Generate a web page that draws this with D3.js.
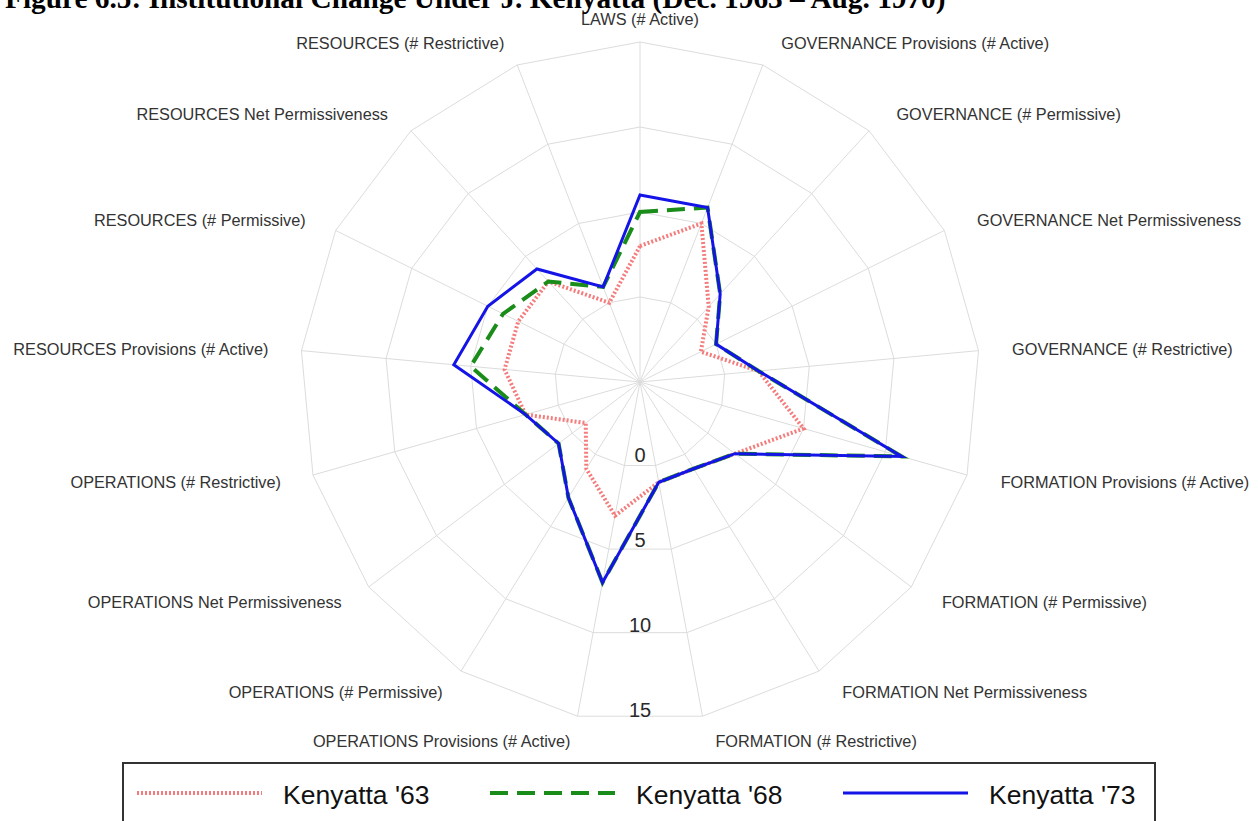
<!DOCTYPE html>
<html>
<head>
<meta charset="utf-8">
<script src="https://cdn.jsdelivr.net/npm/d3@7"></script>
<style>
  body { margin: 0; background: #fff; }
  svg { display: block; }
</style>
</head>
<body>
<svg id="chart" width="1258" height="821"></svg>
<script>
// spoke labels, clockwise from the top
var axes = [
  'LAWS (# Active)',
  'GOVERNANCE Provisions (# Active)',
  'GOVERNANCE (# Permissive)',
  'GOVERNANCE Net Permissiveness',
  'GOVERNANCE (# Restrictive)',
  'FORMATION Provisions (# Active)',
  'FORMATION (# Permissive)',
  'FORMATION Net Permissiveness',
  'FORMATION (# Restrictive)',
  'OPERATIONS Provisions (# Active)',
  'OPERATIONS (# Permissive)',
  'OPERATIONS Net Permissiveness',
  'OPERATIONS (# Restrictive)',
  'RESOURCES Provisions (# Active)',
  'RESOURCES (# Permissive)',
  'RESOURCES Net Permissiveness',
  'RESOURCES (# Restrictive)'
];
var kenyatta63 = [3, 5, 1, -1, 2, 5, 2, 1, 1, 3, 1, -1, 2, 3, 3, 3, 0];
var kenyatta68 = [5, 6, 2, 0, 2, 11, 2, 1, 1, 7, 3, 1, 2, 5, 4, 3, 1];
var kenyatta73 = [6, 6, 2, 0, 2, 11, 2, 1, 1, 7, 3, 1, 2, 6, 5, 4, 1];
var seriesNames = ["Kenyatta '63", "Kenyatta '68", "Kenyatta '73"];
var radialTicks = [0, 5, 10, 15];
var radialDomain = [-5, 15];

var title = 'Figure 6.5: Institutional Change Under J. Kenyatta (Dec. 1963 \u2013 Aug. 1970)';

var styles = [
  { color: '#f47c7c', width: 4, dash: '2,2' },
  { color: '#1a8c1a', width: 4, dash: '18,9' },
  { color: '#1414e6', width: 3, dash: null }
];

var cx = 640, cy = 382, R = 340;
var svg = d3.select('#chart');

var r = d3.scaleLinear().domain(radialDomain).range([0, R]);
var angle = d3.scaleLinear().domain([0, axes.length]).range([0, 2 * Math.PI]);

var g = svg.append('g').attr('transform', 'translate(' + cx + ',' + cy + ')');

// grid rings
var ring = d3.lineRadial()
  .angle(function(d, i){ return angle(i) })
  .radius(function(d){ return r(d) })
  .curve(d3.curveLinearClosed);

radialTicks.forEach(function(t){
  g.append('path')
    .attr('d', ring(axes.map(function(){ return t })))
    .attr('fill', 'none')
    .attr('stroke', '#dcdcdc')
    .attr('stroke-width', 1);
});

// spokes
g.selectAll('line.spoke').data(axes).enter()
  .append('line')
  .attr('class', 'spoke')
  .attr('x1', 0).attr('y1', 0)
  .attr('x2', function(d, i){ return R * Math.sin(angle(i)) })
  .attr('y2', function(d, i){ return -R * Math.cos(angle(i)) })
  .attr('stroke', '#dcdcdc')
  .attr('stroke-width', 1);

// spoke labels
var labelR = 373;
g.selectAll('text.axis-label').data(axes).enter()
  .append('text')
  .attr('class', 'axis-label')
  .attr('x', function(d, i){
    var a = angle(i), s = Math.sin(a), c = Math.cos(a);
    var off = Math.abs(s) < 0.05 ? 0 : (s > 0 ? 7 : -1) * Math.abs(c);
    return labelR * s + off;
  })
  .attr('y', function(d, i){
    var c = Math.cos(angle(i));
    return -labelR * c + 9 * c + 1;
  })
  .attr('dy', '0.35em')
  .attr('text-anchor', function(d, i){
    var s = Math.sin(angle(i));
    return Math.abs(s) < 0.05 ? 'middle' : (s > 0 ? 'start' : 'end');
  })
  .attr('font-family', 'Liberation Sans, Arial, sans-serif')
  .attr('font-size', 16.3)
  .attr('fill', '#333')
  .text(function(d){ return d });

// radial tick labels, down the bottom
g.selectAll('text.tick').data(radialTicks).enter()
  .append('text')
  .attr('class', 'tick')
  .attr('x', 0)
  .attr('y', function(d){ return r(d) - 5 })
  .attr('text-anchor', 'middle')
  .attr('font-family', 'Liberation Sans, Arial, sans-serif')
  .attr('font-size', 20)
  .attr('fill', '#2a2a2a')
  .text(function(d){ return d });

// series
var series = [kenyatta63, kenyatta68, kenyatta73];
var line = d3.lineRadial()
  .angle(function(d, i){ return angle(i) })
  .radius(function(d){ return r(d) })
  .curve(d3.curveLinearClosed);

series.forEach(function(vals, k){
  g.append('path')
    .attr('d', line(vals))
    .attr('fill', 'none')
    .attr('stroke', styles[k].color)
    .attr('stroke-width', styles[k].width)
    .attr('stroke-dasharray', styles[k].dash)
    .attr('stroke-linejoin', 'miter');
});

// title, partly cut off at the top like the source
svg.append('text')
  .attr('x', 5)
  .attr('y', 8)
  .attr('font-family', 'Liberation Serif, Times New Roman, serif')
  .attr('font-weight', 'bold')
  .attr('font-size', 29.3)
  .attr('fill', '#000')
  .text(title);

// legend
var legend = svg.append('g');
legend.append('rect')
  .attr('x', 123).attr('y', 763)
  .attr('width', 1032).attr('height', 90)
  .attr('fill', '#fff')
  .attr('stroke', '#333')
  .attr('stroke-width', 2);

var legendX = d3.scaleOrdinal().domain(seriesNames).range([137, 490, 843]);
seriesNames.forEach(function(name, k){
  var x0 = legendX(name);
  legend.append('line')
    .attr('x1', x0).attr('x2', x0 + 125)
    .attr('y1', 793).attr('y2', 793)
    .attr('stroke', styles[k].color)
    .attr('stroke-width', styles[k].width)
    .attr('stroke-dasharray', styles[k].dash);
  legend.append('text')
    .attr('x', x0 + 146)
    .attr('y', 804)
    .attr('font-family', 'Liberation Sans, Arial, sans-serif')
    .attr('font-size', 26.5)
    .attr('fill', '#111')
    .text(name);
});
</script>
</body>
</html>
